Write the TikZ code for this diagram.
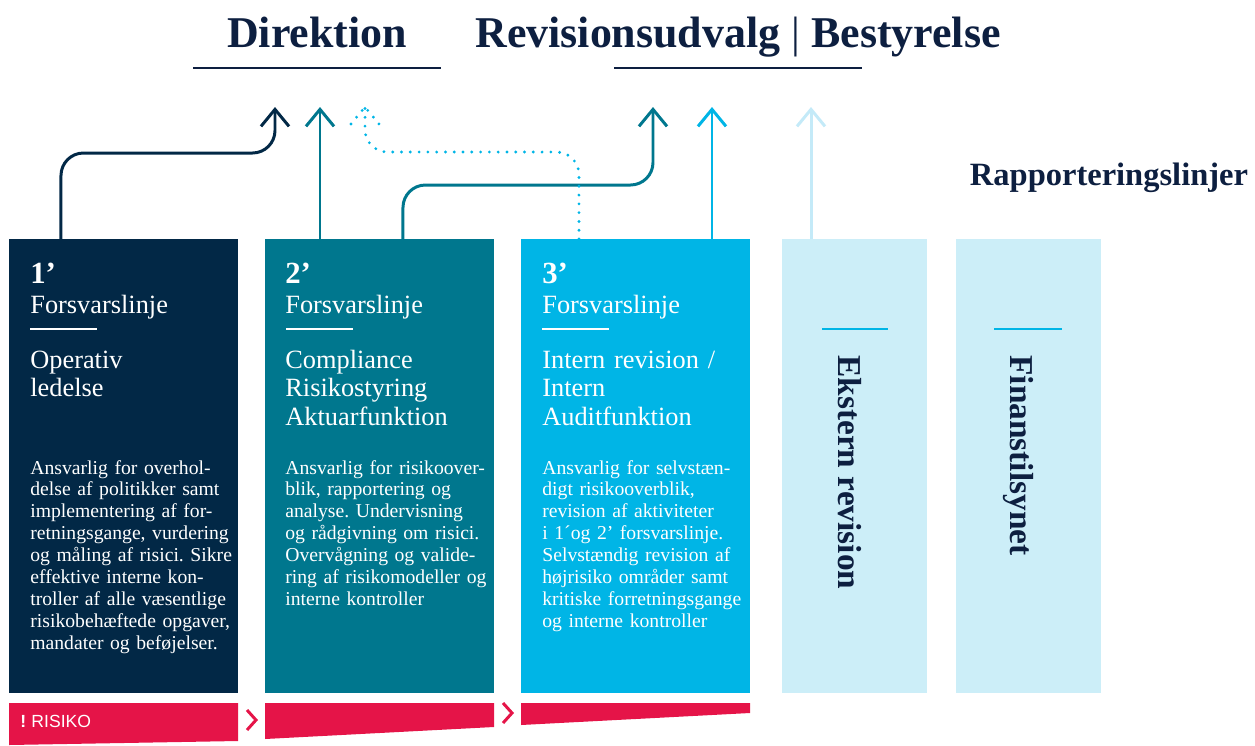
\documentclass[tikz,border=0pt]{standalone}
\usepackage{fontspec}
\setmainfont{Liberation Serif}
\newfontfamily\risikofont{Liberation Sans}
\usetikzlibrary{arrows.meta}
\frenchspacing

\definecolor{navy}{RGB}{2,40,70}
\definecolor{inknavy}{RGB}{13,31,64}
\definecolor{petrol}{RGB}{0,119,142}
\definecolor{skyblue}{RGB}{0,181,230}
\definecolor{pale}{RGB}{204,238,248}
\definecolor{paleline}{RGB}{196,234,248}
\definecolor{risk}{RGB}{229,20,72}

\begin{document}
\begin{tikzpicture}[x=0.02cm, y=-0.02cm,
    linebox/.style={inner sep=0pt, minimum width=4.58cm, minimum height=9.08cm, anchor=north west},
    sidebox/.style={linebox, fill=pale, minimum width=2.9cm},
    title/.style={font=\fontsize{25}{30}\selectfont\bfseries, text=inknavy, inner sep=0pt, anchor=base},
    num/.style={font=\fontsize{17.5}{20}\selectfont\bfseries, text=white, inner sep=0pt, anchor=base west},
    head/.style={font=\fontsize{15}{16.5}\selectfont, text=white, inner sep=0pt, anchor=base west, text width=4.4cm, align=left},
    body/.style={font=\fontsize{11.2}{12.5}\selectfont, text=white, inner sep=0pt, anchor=base west, text width=4.4cm, align=left},
    side/.style={font=\fontsize{19}{22}\selectfont\bfseries, text=inknavy, inner sep=0pt, rotate=-90, anchor=base west},
    report/.style={line width=1.7pt, -{Straight Barb[length=0.34cm, width=0.56cm]}, rounded corners=0.45cm},
    dotline/.style={skyblue, line width=1.8pt, line cap=round, dash pattern=on 0pt off 5pt, rounded corners=0.45cm},
    rule/.style={white, line width=1.2pt},
    chev/.style={risk, line width=1.7pt}]
    \useasboundingbox (0,0) rectangle (1255,745);

    % Titles on top
    \node[title] (dir) at (317,47) {Direktion};
    \node[title] (rev) at (738,47) {Revisionsudvalg {\mdseries|} Bestyrelse};
    \draw[inknavy, line width=1.4pt] (193,68) -- (441,68);
    \draw[inknavy, line width=1.4pt] (614,68) -- (862,68);
    \node[font=\fontsize{18.5}{22}\selectfont\bfseries, text=inknavy, inner sep=0pt, anchor=base] (rapport) at (1109,185) {Rapporteringslinjer};

    % The five columns
    \node[linebox, fill=navy] (line1) at (9,239) {};
    \node[linebox, fill=petrol] (line2) at (265,239) {};
    \node[linebox, fill=skyblue] (line3) at (521,239) {};
    \node[sidebox] (ext) at (782,239) {};
    \node[sidebox] (fsa) at (956,239) {};

    % Column headings
    \node[num] (num1) at ([shift={(21,44)}]line1.north west) {1’};
    \node[num] (num2) at ([shift={(20,44)}]line2.north west) {2’};
    \node[num] (num3) at ([shift={(21,44)}]line3.north west) {3’};
    \node[head] (lbl1) at ([shift={(21,74)}]line1.north west) {Forsvarslinje};
    \node[head] (lbl2) at ([shift={(20,74)}]line2.north west) {Forsvarslinje};
    \node[head] (lbl3) at ([shift={(21,74)}]line3.north west) {Forsvarslinje};
    \foreach \b in {line1,line2,line3}
        \draw[rule] ([shift={(21,90)}]\b.north west) -- ++(67,0);
    \draw[skyblue, line width=1pt] ([shift={(40,90)}]ext.north west) -- ++(66,0);
    \draw[skyblue, line width=1pt] ([shift={(38,90)}]fsa.north west) -- ++(68,0);

    % Roles
    \node[head] (role1) at ([shift={(21,129)}]line1.north west) {Operativ\\ledelse};
    \node[head] (role2) at ([shift={(20,129)}]line2.north west) {Compliance\\Risikostyring\\Aktuarfunktion};
    \node[head] (role3) at ([shift={(21,129)}]line3.north west) {Intern revision /\\Intern\\Auditfunktion};

    % Descriptions
    \node[body] (desc1) at ([shift={(21,235)}]line1.north west) {Ansvarlig for overhol-\\delse af politikker samt\\implementering af for-\\retningsgange, vurdering\\og måling af risici. Sikre\\effektive interne kon-\\troller af alle væsentlige\\risikobehæftede opgaver,\\mandater og beføjelser.};
    \node[body] (desc2) at ([shift={(20,235)}]line2.north west) {Ansvarlig for risikoover-\\blik, rapportering og\\analyse. Undervisning\\og rådgivning om risici.\\Overvågning og valide-\\ring af risikomodeller og\\interne kontroller};
    \node[body] (desc3) at ([shift={(21,235)}]line3.north west) {Ansvarlig for selvstæn-\\digt risikooverblik,\\revision af aktiviteter\\i 1´og 2’ forsvarslinje.\\Selvstændig revision af\\højrisiko områder samt\\kritiske forretningsgange\\og interne kontroller};

    % Vertical labels
    \node[side] (extlbl) at (838,355) {Ekstern revision};
    \node[side] (fsalbl) at (1010,355) {Finanstilsynet};

    % Reporting lines
    \coordinate (bendA) at (275,153);
    \coordinate (tipA) at (275,107);
    \coordinate (tipB) at (320,107);
    \coordinate (bendC) at (365,152);
    \coordinate (tipC) at (365,107);
    \coordinate (bendD) at (653,185);
    \coordinate (tipD) at (653,107);
    \coordinate (tipE) at (712,107);
    \coordinate (tipF) at (811,107);
    \draw[report, navy] ([xshift=1.04cm]line1.north west) |- (bendA) -- (tipA);
    \draw[report, petrol] (tipB |- line2.north) -- (tipB);
    \draw[report, petrol] ([xshift=2.76cm]line2.north west) |- (bendD) -- (tipD);
    \draw[report, skyblue] (tipE |- line3.north) -- (tipE);
    \draw[report, paleline] (tipF |- ext.north) -- (tipF);
    \draw[dotline] ([xshift=1.16cm]line3.north west) |- (bendC) -- (tipC);
    \draw[dotline, rounded corners=0pt] ([shift={(-14,17)}]tipC) -- (tipC) -- ++(14,17);

    % Risk bar
    \fill[risk] (9,703) -- (238,703) -- (238,741) -- (9,745) -- cycle;
    \fill[risk] (265,703) -- (494,703) -- (494,727) -- (265,739) -- cycle;
    \fill[risk] (521,703) -- (750,703) -- (750,713) -- (521,725) -- cycle;
    \draw[chev] (247,710) -- (256,720) -- (247,730);
    \draw[chev] (503,703) -- (512,713) -- (503,723);
    \node[font=\risikofont\fontsize{10}{12}\selectfont, text=white, inner sep=0pt, anchor=base west] (risiko) at (20,727) {\textbf{!}\hspace{3pt}RISIKO};
\end{tikzpicture}
\end{document}
